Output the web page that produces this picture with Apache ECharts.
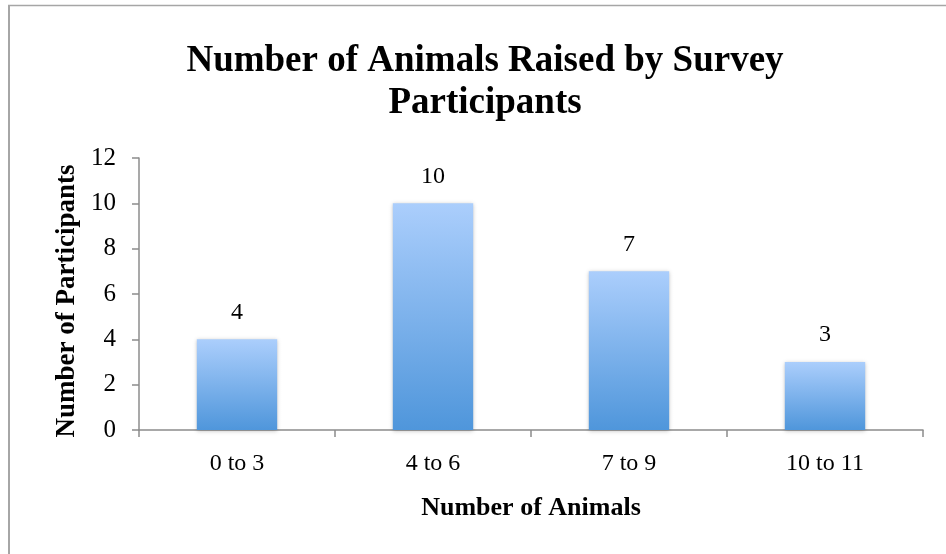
<!DOCTYPE html>
<html>
<head>
<meta charset="utf-8">
<script src="https://cdn.jsdelivr.net/npm/echarts@6/dist/echarts.min.js"></script>
<style>html,body{margin:0;padding:0;background:#fff;}#c{width:946px;height:554px;}</style>
</head>
<body>
<div id="c"></div>
<script>
var categories = ['0 to 3', '4 to 6', '7 to 9', '10 to 11'];
var participants = [4, 10, 7, 3];
var yTicks = [0, 2, 4, 6, 8, 10, 12];

var chart = echarts.init(document.getElementById('c'));
var serif = '"Liberation Serif", "Times New Roman", serif';
chart.setOption({
  animation: false,
  backgroundColor: '#fff',
  title: {
    text: 'Number of Animals Raised by Survey\nParticipants',
    left: 480,
    textAlign: 'center',
    top: 35,
    textStyle: { fontFamily: serif, fontWeight: 'bold', fontSize: 37, lineHeight: 42, color: '#000' }
  },
  graphic: [
    { type: 'line', shape: { x1: 9, y1: 5, x2: 9, y2: 554 }, style: { stroke: '#a6a6a6', lineWidth: 2 } },
    { type: 'line', shape: { x1: 8, y1: 5.5, x2: 946, y2: 5.5 }, style: { stroke: '#a6a6a6', lineWidth: 1.5 } }
  ],
  grid: { left: 139, right: 23, top: 158, bottom: 124 },
  xAxis: {
    type: 'category',
    data: categories,
    name: 'Number of Animals',
    nameLocation: 'middle',
    nameGap: 65,
    nameTextStyle: { fontFamily: serif, fontWeight: 'bold', fontSize: 26, color: '#000' },
    axisLine: { lineStyle: { color: '#8c8c8c', width: 1.5 } },
    axisTick: { show: true, length: 7, alignWithLabel: false, lineStyle: { color: '#8c8c8c', width: 1.5 } },
    axisLabel: { fontFamily: serif, fontSize: 24, color: '#000', margin: 22 }
  },
  yAxis: {
    type: 'value',
    min: yTicks[0],
    max: yTicks[yTicks.length - 1],
    interval: 2,
    name: 'Number of Participants',
    nameLocation: 'middle',
    nameGap: 58,
    nameTextStyle: { fontFamily: serif, fontWeight: 'bold', fontSize: 27, color: '#000', padding: [0, 14, 0, 0] },
    axisLine: { show: true, lineStyle: { color: '#8c8c8c', width: 1.5 } },
    axisTick: { show: true, length: 7, lineStyle: { color: '#8c8c8c', width: 1.5 } },
    splitLine: { show: false },
    axisLabel: { fontFamily: serif, fontSize: 25, color: '#000', margin: 23 }
  },
  series: [{
    type: 'bar',
    data: participants,
    barWidth: '41%',
    itemStyle: {
      color: new echarts.graphic.LinearGradient(0, 0, 0, 1, [
        { offset: 0, color: '#abcefc' },
        { offset: 1, color: '#4f96db' }
      ]),
      shadowColor: 'rgba(0,0,0,0.25)',
      shadowBlur: 4,
      shadowOffsetY: 1
    },
    label: {
      show: true,
      position: 'top',
      distance: 15,
      fontFamily: serif,
      fontSize: 24,
      color: '#000'
    }
  }]
});
</script>
</body>
</html>
